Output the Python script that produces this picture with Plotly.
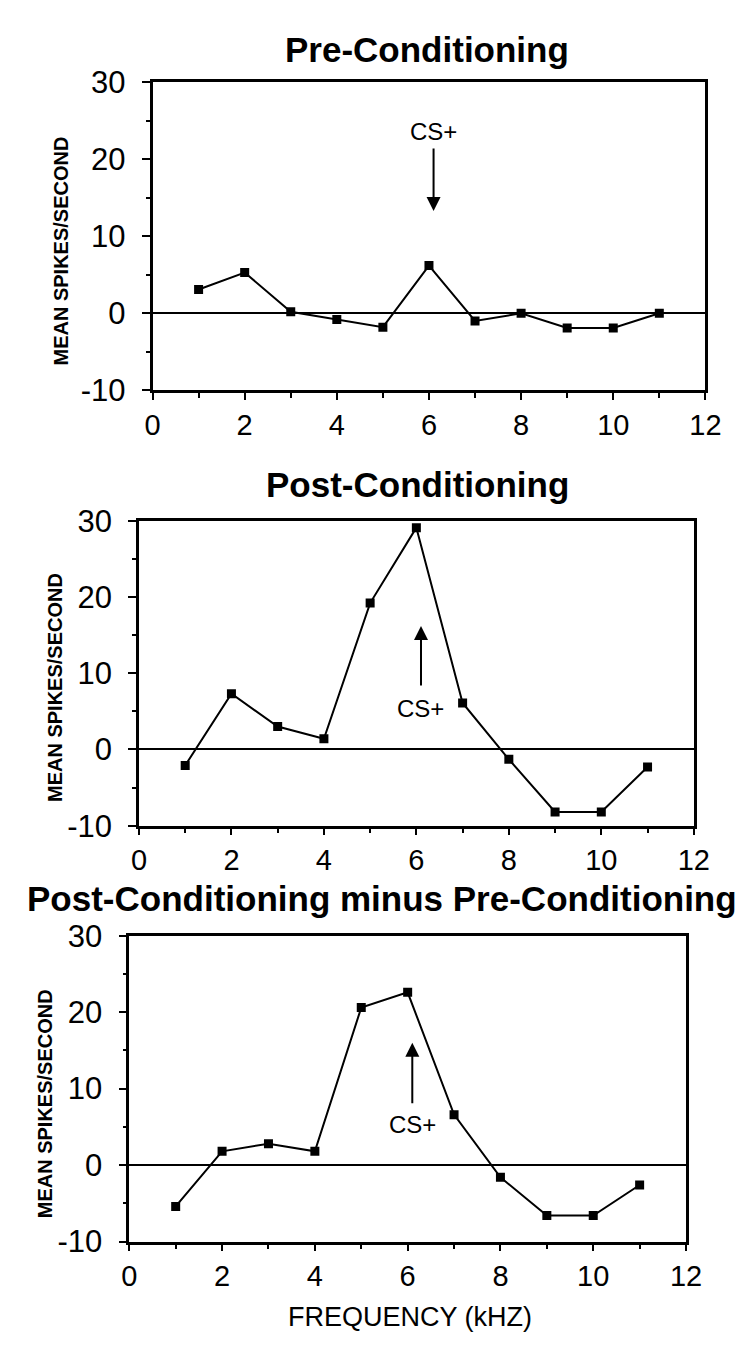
import plotly.graph_objects as go

W, H = 756, 1347

freq = [1, 2, 3, 4, 5, 6, 7, 8, 9, 10, 11]
pre = [3.1, 5.3, 0.2, -0.8, -1.8, 6.2, -1.0, 0.0, -1.9, -1.9, 0.0]
post = [-2.1, 7.3, 3.0, 1.4, 19.2, 29.1, 6.1, -1.3, -8.2, -8.2, -2.3]
diff = [-5.4, 1.8, 2.8, 1.8, 20.6, 22.6, 6.6, -1.6, -6.6, -6.6, -2.6]

titles = ["Pre-Conditioning", "Post-Conditioning", "Post-Conditioning minus Pre-Conditioning"]
y_title = "MEAN SPIKES/SECOND"
x_title = "FREQUENCY (kHZ)"
x_ticks = [0, 2, 4, 6, 8, 10, 12]
y_ticks = [-10, 0, 10, 20, 30]
cs_label = "CS+"
cs_freq = 6.1
# arrow: (tip y, tail y, label y)
cs_arrows = [(13.3, 21.6, 23.6), (16.2, 8.2, 5.4), (16.0, 7.9, 5.3)]

# panel pixel boxes: (left, right, top, bottom)
boxes = [(141, 712, 59, 375), (127, 700, 509, 822), (117, 692, 935, 1249)]
title_pos = [(424, 25), (415, 472), (378, 897)]
ytitle_pos = [(46, 232), (41, 680), (30, 1108)]

FONT = "Liberation Sans"

def px(x):
    return x / W

def py(y):
    return 1 - y / H

fig = go.Figure()
series = [pre, post, diff]
annotations = []
for i, (vals, box) in enumerate(zip(series, boxes)):
    n = "" if i == 0 else str(i + 1)
    fig.add_trace(go.Scatter(
        x=freq, y=vals, mode="lines+markers",
        line=dict(color="black", width=2),
        marker=dict(symbol="square", size=9, color="black"),
        xaxis="x" + n, yaxis="y" + n, showlegend=False,
    ))
    l, r, t, b = box
    fig.layout["xaxis" + n] = dict(
        domain=[px(l), px(r)], anchor="y" + n, range=[0, 12],
        tickvals=x_ticks, ticktext=[str(v) for v in x_ticks],
        ticks="outside", ticklen=7, tickwidth=2, tickcolor="black",
        minor=dict(dtick=1, ticks="outside", ticklen=5, tickwidth=2, tickcolor="black", showgrid=False),
        showline=True, linecolor="black", linewidth=2.5, mirror=True,
        showgrid=False, zeroline=False,
        tickfont=dict(family=FONT, size=29, color="black"),
    )
    fig.layout["yaxis" + n] = dict(
        domain=[py(b), py(t)], anchor="x" + n, range=[-10, 30],
        tickvals=y_ticks, ticktext=[str(v) for v in y_ticks],
        ticks="outside", ticklen=8, tickwidth=2, tickcolor="black",
        minor=dict(dtick=5, ticks="outside", ticklen=4, tickwidth=2, tickcolor="black", showgrid=False),
        showline=True, linecolor="black", linewidth=2.5, mirror=True,
        showgrid=False, zeroline=True, zerolinecolor="black", zerolinewidth=2,
        ticklabelstandoff=10,
        tickfont=dict(family=FONT, size=31, color="black"),
    )
    tx, ty = title_pos[i]
    annotations.append(dict(
        text="<b>" + titles[i] + "</b>", x=px(tx), y=py(ty), xref="paper", yref="paper",
        showarrow=False, xanchor="center", yanchor="middle",
        font=dict(family=FONT, size=35, color="black"),
    ))
    yx, yy = ytitle_pos[i]
    annotations.append(dict(
        text="<b>" + y_title + "</b>", x=px(yx), y=py(yy), xref="paper", yref="paper",
        showarrow=False, textangle=-90, xanchor="center", yanchor="middle",
        font=dict(family=FONT, size=20, color="black"),
    ))
    tip, tail, lab = cs_arrows[i]
    annotations.append(dict(
        text="", x=cs_freq, y=tip, ax=cs_freq, ay=tail, xref="x" + n, yref="y" + n,
        axref="x" + n, ayref="y" + n, showarrow=True, arrowhead=2, arrowsize=1.4,
        arrowwidth=2, arrowcolor="black",
    ))
    annotations.append(dict(
        text=cs_label, x=cs_freq, y=lab, xref="x" + n, yref="y" + n,
        showarrow=False, xanchor="center", yanchor="middle",
        font=dict(family=FONT, size=24, color="black"),
    ))

annotations.append(dict(
    text=x_title, x=px(407), y=py(1326), xref="paper", yref="paper",
    showarrow=False, xanchor="center", yanchor="middle",
    font=dict(family=FONT, size=27, color="black"),
))

fig.update_layout(
    width=W, height=H, margin=dict(l=0, r=0, t=0, b=0),
    paper_bgcolor="white", plot_bgcolor="white",
    annotations=annotations,
)

fig.write_html("out.html")
